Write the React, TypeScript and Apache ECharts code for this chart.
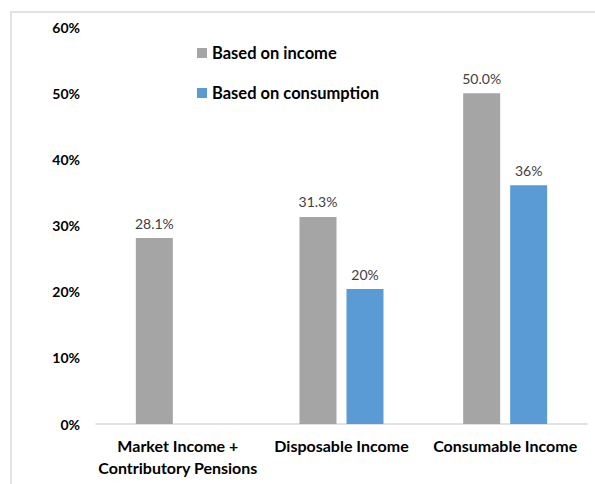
import React, { useEffect, useRef } from "react";
import * as echarts from "echarts";

const categories = ["Market Income +\nContributory Pensions", "Disposable Income", "Consumable Income"];
const incomeValues: (number | null)[] = [28.1, 31.3, 50.0];
const consumptionValues: (number | null)[] = [null, 20.4, 36.1];
const seriesNames = ["Based on income", "Based on consumption"];
const yTicks = { min: 0, max: 60, interval: 10 };

const FONT = "Lato, 'Open Sans', sans-serif";

export default function App() {
  const ref = useRef<HTMLDivElement>(null);
  useEffect(() => {
    if (!ref.current) return;
    const chart = echarts.init(ref.current, undefined, { renderer: "svg" });
    chart.setOption({
      animation: false,
      backgroundColor: "#ffffff",
      textStyle: { fontFamily: FONT },
      graphic: [
        {
          type: "rect",
          shape: { x: 11, y: 12, width: 620, height: 500 },
          style: { fill: "none", stroke: "#d9d9d9", lineWidth: 1.5 },
          silent: true,
        },
      ],
      legend: {
        orient: "vertical",
        left: 192,
        top: 38,
        itemWidth: 10,
        itemHeight: 10,
        itemGap: 20,
        icon: "rect",
        textStyle: { fontFamily: FONT, fontSize: 16.5, lineHeight: 20, fontWeight: "bold", color: "#000" },
        data: seriesNames,
      },
      grid: { left: 96, right: 8, top: 27, bottom: 60 },
      xAxis: {
        type: "category",
        data: categories,
        axisLine: { lineStyle: { color: "#d9d9d9", width: 1.5 } },
        axisTick: { show: false },
        axisLabel: {
          fontFamily: FONT,
          fontSize: 16,
          fontWeight: "bold",
          color: "#000",
          lineHeight: 22,
          margin: 10,
          interval: 0,
        },
      },
      yAxis: {
        type: "value",
        min: yTicks.min,
        max: yTicks.max,
        interval: yTicks.interval,
        axisLine: { show: false },
        axisTick: { show: false },
        splitLine: { show: false },
        axisLabel: {
          fontFamily: FONT,
          fontSize: 14,
          fontWeight: "bold",
          color: "#000",
          margin: 16,
          formatter: (v: number) => v + "%",
        },
      },
      series: [
        {
          name: seriesNames[0],
          type: "bar",
          data: incomeValues,
          barWidth: 37,
          barGap: "27%",
          itemStyle: { color: "#a5a5a5" },
          label: {
            show: true,
            position: "top",
            distance: 8,
            fontFamily: FONT,
            fontSize: 14,
            color: "#404040",
            formatter: (p: any) => Number(p.value).toFixed(1) + "%",
          },
        },
        {
          name: seriesNames[1],
          type: "bar",
          data: consumptionValues,
          barWidth: 37,
          itemStyle: { color: "#5b9bd5" },
          label: {
            show: true,
            position: "top",
            distance: 8,
            fontFamily: FONT,
            fontSize: 14,
            color: "#404040",
            formatter: (p: any) => Math.round(Number(p.value)) + "%",
          },
        },
      ],
    });
    return () => chart.dispose();
  }, []);
  return (
    <div
      ref={ref}
      style={{ position: "fixed", left: 0, top: 0, width: 595, height: 484, background: "#fff" }}
    />
  );
}
